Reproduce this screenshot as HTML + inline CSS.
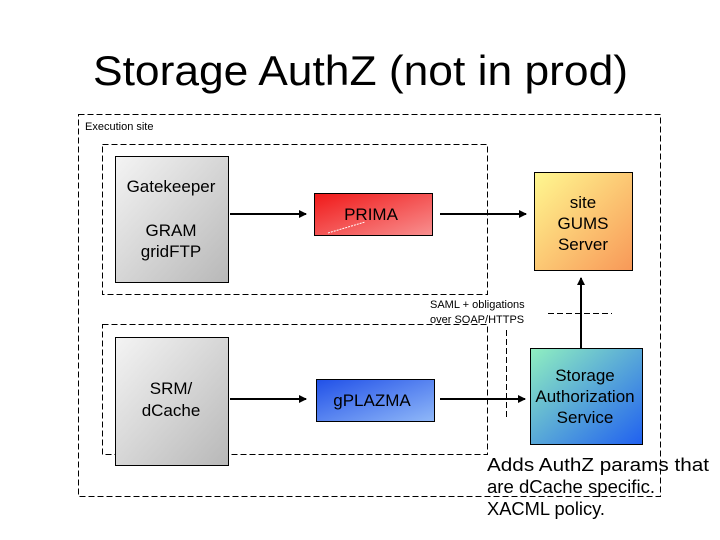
<!DOCTYPE html>
<html><head><meta charset="utf-8"><style>
html,body{margin:0;padding:0;background:#fff;width:720px;height:540px;overflow:hidden}
svg{display:block;font-family:"Liberation Sans",Arial,sans-serif}
</style></head><body>
<svg width="720" height="540" viewBox="0 0 720 540" xmlns="http://www.w3.org/2000/svg">
<defs>
<linearGradient id="gray" x1="0" y1="0" x2="1" y2="1"><stop offset="0" stop-color="#f4f4f4"/><stop offset="1" stop-color="#b8b8b8"/></linearGradient>
<linearGradient id="red" x1="0" y1="0" x2="1" y2="1"><stop offset="0" stop-color="#f01818"/><stop offset="1" stop-color="#f89090"/></linearGradient>
<linearGradient id="orange" x1="0" y1="0" x2="1" y2="1"><stop offset="0" stop-color="#fff890"/><stop offset="1" stop-color="#f89858"/></linearGradient>
<linearGradient id="blue" x1="0" y1="0" x2="1" y2="1"><stop offset="0" stop-color="#2050e8"/><stop offset="1" stop-color="#90b8f8"/></linearGradient>
<linearGradient id="teal" x1="0" y1="0" x2="1" y2="1"><stop offset="0" stop-color="#90f0c0"/><stop offset="1" stop-color="#2060f0"/></linearGradient>
<marker id="ah" markerWidth="8" markerHeight="8" refX="7" refY="4" orient="auto" markerUnits="userSpaceOnUse"><path d="M0,0 L8,4 L0,8 z" fill="#000"/></marker>
</defs>
<text x="93" y="85" font-size="42" textLength="535" lengthAdjust="spacingAndGlyphs">Storage AuthZ (not in prod)</text>
<g fill="none" stroke="#000" stroke-width="1" stroke-dasharray="6,3">
<rect x="78.5" y="114.5" width="582" height="382"/>
<rect x="102.5" y="144.5" width="385" height="150"/>
<rect x="102.5" y="324.5" width="385" height="130"/>
<line x1="548" y1="313.5" x2="612" y2="313.5"/>
<line x1="506.5" y1="330" x2="506.5" y2="420"/>
</g>
<text x="85" y="130" font-size="11">Execution site</text>
<rect x="115.5" y="156.5" width="113" height="126" fill="url(#gray)" stroke="#000"/>
<text font-size="17" text-anchor="middle"><tspan x="171" y="192">Gatekeeper</tspan><tspan x="171" y="236">GRAM</tspan><tspan x="171" y="257">gridFTP</tspan></text>
<rect x="314.5" y="193.5" width="118" height="42" fill="url(#red)" stroke="#000"/>
<line x1="328" y1="233" x2="365" y2="222" stroke="#fff" stroke-width="1" stroke-dasharray="2,1"/>
<text x="371" y="220" font-size="17" text-anchor="middle">PRIMA</text>
<rect x="534.5" y="172.5" width="98" height="98" fill="url(#orange)" stroke="#000"/>
<text font-size="17" text-anchor="middle"><tspan x="583" y="208">site</tspan><tspan x="583" y="229">GUMS</tspan><tspan x="583" y="250">Server</tspan></text>
<rect x="115.5" y="337.5" width="113" height="128" fill="url(#gray)" stroke="#000"/>
<text font-size="17" text-anchor="middle"><tspan x="171" y="394">SRM/</tspan><tspan x="171" y="416">dCache</tspan></text>
<rect x="316.5" y="379.5" width="118" height="42" fill="url(#blue)" stroke="#000"/>
<text x="372" y="406" font-size="17" text-anchor="middle">gPLAZMA</text>
<rect x="530.5" y="348.5" width="112" height="96" fill="url(#teal)" stroke="#000"/>
<text font-size="17" text-anchor="middle"><tspan x="585" y="381">Storage</tspan><tspan x="585" y="402">Authorization</tspan><tspan x="585" y="423">Service</tspan></text>
<g stroke="#000" stroke-width="2" marker-end="url(#ah)">
<line x1="230" y1="214" x2="306" y2="214"/>
<line x1="440" y1="214" x2="526" y2="214"/>
<line x1="230" y1="399" x2="306" y2="399"/>
<line x1="440" y1="399" x2="525" y2="399"/>
<line x1="581" y1="348" x2="581" y2="278"/>
</g>
<text font-size="11"><tspan x="430" y="308">SAML + obligations</tspan><tspan x="430" y="323">over SOAP/HTTPS</tspan></text>
<text font-size="18"><tspan x="487" y="471" textLength="222" lengthAdjust="spacingAndGlyphs">Adds AuthZ params that</tspan><tspan x="487" y="493" textLength="168" lengthAdjust="spacingAndGlyphs">are dCache specific.</tspan><tspan x="487" y="515" textLength="118" lengthAdjust="spacingAndGlyphs">XACML policy.</tspan></text>
</svg>
</body></html>
